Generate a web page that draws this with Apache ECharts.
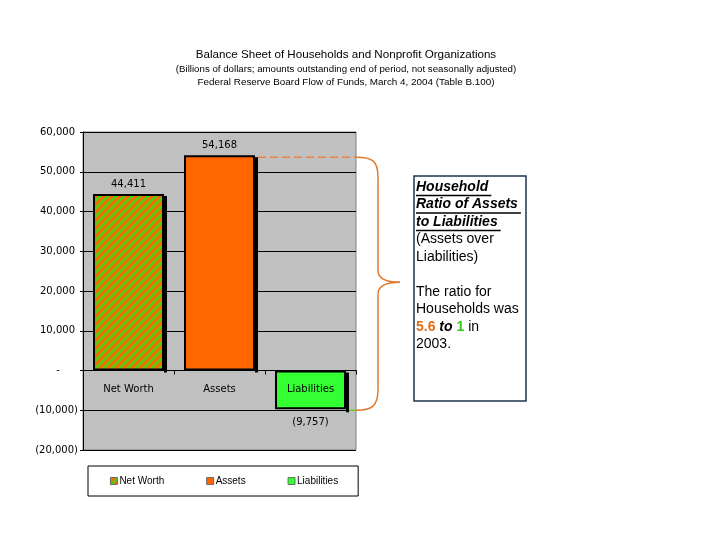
<!DOCTYPE html>
<html><head><meta charset="utf-8">
<script src="https://cdn.jsdelivr.net/npm/echarts@6/dist/echarts.min.js"></script>
<style>html,body{margin:0;padding:0;background:#fff}#c{width:720px;height:540px}</style>
</head><body><div id="c"></div>
<script>
const categories = ['Net Worth', 'Assets', 'Liabilities'];
const netWorth = [44411, '-', '-'];
const assets = ['-', 54168, '-'];
const liabilities = ['-', '-', -9757];
const yTicks = { min: -20000, max: 60000, interval: 10000 };
const titleLines = [
  'Balance Sheet of Households and Nonprofit Organizations',
  '(Billions of dollars; amounts outstanding end of period, not seasonally adjusted)',
  'Federal Reserve Board Flow of Funds, March 4, 2004 (Table B.100)'
];
const ratioText = { assets: '5.6', liab: '1', year: '2003' };

const ORANGE = '#ff6600', GREEN = '#33ff33', STRIPE_G = '#55cc11';
const FONT = 'DejaVu Sans';

const pc = document.createElement('canvas');
pc.width = 8; pc.height = 8;
const g = pc.getContext('2d');
g.fillStyle = ORANGE; g.fillRect(0, 0, 8, 8);
g.strokeStyle = STRIPE_G; g.lineWidth = 3;
[[-4, 4, 4, -4], [0, 8, 8, 0], [4, 12, 12, 4]].forEach(l => { g.beginPath(); g.moveTo(l[0], l[1]); g.lineTo(l[2], l[3]); g.stroke(); });
const stripe = { image: pc, repeat: 'repeat' };

function fmt(v) {
  const s = Math.abs(v).toLocaleString('en-US');
  return v < 0 ? '(' + s + ')' : s;
}

const chart = echarts.init(document.getElementById('c'));
const itemBase = { borderColor: '#000', borderWidth: 2 };
const lbl = { show: true, color: '#000', fontFamily: FONT, fontSize: 10, formatter: p => fmt(p.value) };
const GRID = { left: 83, right: 364, top: 132, bottom: 90 };

const option = {
  animation: false,
  backgroundColor: '#fff',
  title: [
    { text: titleLines[0], left: 341, top: 44, textAlign: 'center', textStyle: { fontFamily: 'Liberation Sans', fontSize: 11.6, fontWeight: 'normal', color: '#000' } },
    { text: titleLines[1], left: 341, top: 59, textAlign: 'center', textStyle: { fontFamily: 'Liberation Sans', fontSize: 9.7, fontWeight: 'normal', color: '#000' } },
    { text: titleLines[2], left: 341, top: 72, textAlign: 'center', textStyle: { fontFamily: 'Liberation Sans', fontSize: 9.9, fontWeight: 'normal', color: '#000' } }
  ],
  legend: {
    left: 88, top: 466, width: 270, height: 20,
    padding: [10, 20, 10, 22], itemGap: 42, itemWidth: 7, itemHeight: 7, icon: 'rect',
    backgroundColor: '#fff', borderColor: '#000', borderWidth: 1, borderRadius: 0,
    textStyle: { fontFamily: 'Liberation Sans', fontSize: 10, color: '#000', padding: [0, 0, 0, -3] },
    itemStyle: { borderColor: '#555', borderWidth: 0.8 },
    data: categories
  },
  grid: Object.assign({ show: true, backgroundColor: '#c0c0c0', borderColor: '#808080', borderWidth: 1 }, GRID),
  xAxis: {
    type: 'category', data: categories, z: 10,
    axisLine: { onZero: false, lineStyle: { color: '#000', width: 1 } },
    axisTick: { show: true, length: 4, lineStyle: { color: '#000' } },
    axisLabel: { color: '#000', fontFamily: FONT, fontSize: 10, margin: 14 }
  },
  yAxis: {
    type: 'value', min: yTicks.min, max: yTicks.max, interval: yTicks.interval,
    axisLine: { show: true, lineStyle: { color: '#000', width: 1 } },
    axisTick: { show: true, length: 3, lineStyle: { color: '#000' } },
    splitLine: { lineStyle: { color: '#000', width: 1.2 } },
    axisLabel: {
      color: '#000', fontFamily: FONT, fontSize: 10, margin: 5,
      formatter: v => v > 0 ? '{p|' + fmt(v) + '}' : (v === 0 ? '{z|-}' : fmt(v)),
      rich: { p: { padding: [0, 3, 0, 0], fontFamily: FONT, fontSize: 10, color: '#000' }, z: { width: 40, align: 'center', fontFamily: FONT, fontSize: 10, color: '#000' } }
    }
  },
  series: [
    { name: 'Net Worth', type: 'bar', data: netWorth, barWidth: '78%', barGap: '-100%', itemStyle: Object.assign({ color: stripe }, itemBase), label: Object.assign({ position: 'top', distance: 5 }, lbl) },
    { name: 'Assets', type: 'bar', data: assets, barWidth: '78%', barGap: '-100%', itemStyle: Object.assign({ color: ORANGE }, itemBase), label: Object.assign({ position: 'top', distance: 5 }, lbl) },
    { name: 'Liabilities', type: 'bar', data: liabilities, barWidth: '78%', barGap: '-100%', itemStyle: Object.assign({ color: GREEN }, itemBase), label: Object.assign({ position: 'bottom', distance: 8 }, lbl) }
  ]
};
chart.setOption(option);

// move the category axis to the zero line
const yZero = chart.convertToPixel({ yAxisIndex: 0 }, 0);
const gridBottomPx = 540 - GRID.bottom;
chart.setOption({ xAxis: { offset: -(gridBottomPx - yZero) } });

const yTop = chart.convertToPixel({ yAxisIndex: 0 }, assets[1]);
const yBot = chart.convertToPixel({ yAxisIndex: 0 }, liabilities[2]);
const xA = chart.convertToPixel({ xAxisIndex: 0 }, categories[1]);
const xL = chart.convertToPixel({ xAxisIndex: 0 }, categories[2]);
const x0 = chart.convertToPixel({ xAxisIndex: 0 }, categories[0]);
const catW = xA - x0;
const halfBar = catW * 0.39;
const xr = 720 - GRID.right;
const xb = xr + 22, tip = xr + 44, ym = (yTop + yBot) / 2;

// right-edge shadows like the original (derived from bar geometry)
const shadows = [];
[[x0, 0, netWorth[0]], [xA, 0, assets[1]], [xL, liabilities[2], 0]].forEach(b => {
  const yA = chart.convertToPixel({ yAxisIndex: 0 }, b[2]);
  const yB = chart.convertToPixel({ yAxisIndex: 0 }, b[1]);
  shadows.push({ type: 'rect', z: 1, shape: { x: b[0] + halfBar, y: yA + 2, width: 3, height: yB - yA + (b[1] < 0 ? 1 : 0) }, style: { fill: '#000' } });
});

const BR = { stroke: '#e07a30', lineWidth: 1.5, fill: null };
const gfx = shadows.concat([
  { type: 'line', z: 50, shape: { x1: xA + halfBar + 3, y1: yTop + 2, x2: xr, y2: yTop + 2 }, style: { stroke: '#e8843a', lineWidth: 1.6, lineDash: [8, 4] } },
  { type: 'line', z: 50, shape: { x1: xL + halfBar + 3, y1: yBot + 1, x2: xr, y2: yBot + 1 }, style: { stroke: '#66cc33', lineWidth: 1.6 } },
  { type: 'bezierCurve', z: 50, shape: { x1: xr, y1: yTop + 2, cpx1: xr + 16, cpy1: yTop + 2, cpx2: xb, cpy2: yTop + 5, x2: xb, y2: yTop + 22 }, style: BR },
  { type: 'line', z: 50, shape: { x1: xb, y1: yTop + 22, x2: xb, y2: ym - 12 }, style: BR },
  { type: 'bezierCurve', z: 50, shape: { x1: xb, y1: ym - 12, cpx1: xb, cpy1: ym - 3, cpx2: xb + 8, cpy2: ym, x2: tip, y2: ym }, style: BR },
  { type: 'bezierCurve', z: 50, shape: { x1: tip, y1: ym, cpx1: xb + 8, cpy1: ym, cpx2: xb, cpy2: ym + 3, x2: xb, y2: ym + 12 }, style: BR },
  { type: 'line', z: 50, shape: { x1: xb, y1: ym + 12, x2: xb, y2: yBot - 20 }, style: BR },
  { type: 'bezierCurve', z: 50, shape: { x1: xb, y1: yBot - 20, cpx1: xb, cpy1: yBot - 3, cpx2: xr + 16, cpy2: yBot + 1, x2: xr, y2: yBot + 1 }, style: BR },
  { type: 'rect', z: 50, shape: { x: 414, y: 176, width: 112, height: 225 }, style: { fill: '#fff', stroke: '#1f3350', lineWidth: 1.5 } }
]);

const tx = 416, lh = 17.5, t0 = 180;
const bi = { fontFamily: 'Liberation Sans', fontSize: 14, fontWeight: 'bold', fontStyle: 'italic', fill: '#000' };
const rg = { fontFamily: 'Liberation Sans', fontSize: 14, fill: '#000' };
const lines = [
  ['Household', bi], ['Ratio of Assets', bi], ['to Liabilities', bi],
  ['(Assets over', rg], ['Liabilities)', rg], [null], ['The ratio for', rg], ['Households was', rg], ['RATIO', rg], [ratioText.year + '.', rg]
];
lines.forEach((l, i) => {
  if (!l[0]) return;
  const y = t0 + i * lh;
  if (l[0] === 'RATIO') {
    gfx.push({ type: 'text', z: 51, x: tx, y: y, style: {
      text: '{o|' + ratioText.assets + '} {t|to} {g|' + ratioText.liab + '} in',
      fontFamily: 'Liberation Sans', fontSize: 14, fill: '#000',
      rich: { o: { fontFamily: 'Liberation Sans', fontSize: 14, fontWeight: 'bold', fill: '#e0701a' }, t: { fontFamily: 'Liberation Sans', fontSize: 14, fontWeight: 'bold', fontStyle: 'italic', fill: '#000' }, g: { fontFamily: 'Liberation Sans', fontSize: 14, fontWeight: 'bold', fill: '#33cc11' } }
    } });
  } else {
    gfx.push({ type: 'text', z: 51, x: tx, y: y, style: Object.assign({ text: l[0] }, l[1]) });
  }
});
const mctx = document.createElement('canvas').getContext('2d');
mctx.font = 'italic bold 14px "Liberation Sans"';
[[0, 'Household'], [1, 'Ratio of Assets'], [2, 'to Liabilities']].forEach(u => {
  const w = mctx.measureText(u[1]).width;
  const y = t0 + u[0] * lh + 15.5;
  gfx.push({ type: 'line', z: 51, shape: { x1: tx, y1: y, x2: tx + w + 3, y2: y }, style: { stroke: '#000', lineWidth: 1.3 } });
});
chart.setOption({ graphic: gfx });
</script></body></html>
